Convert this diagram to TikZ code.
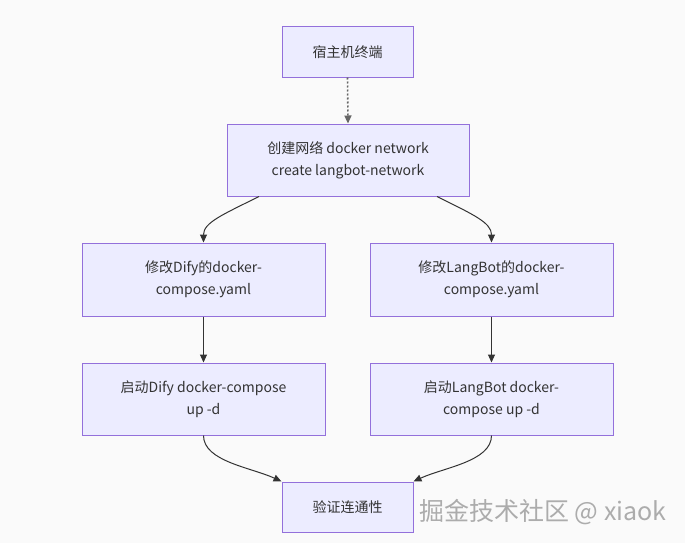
\documentclass[tikz,border=0pt]{standalone}
\usepackage{fontspec}
\setmainfont{Noto Sans CJK SC}
\usetikzlibrary{arrows.meta}
\definecolor{nodefill}{HTML}{ECECFF}
\definecolor{nodeline}{HTML}{9370DB}
\definecolor{txt}{HTML}{333333}
\definecolor{bg}{HTML}{FAFAFA}
\tikzset{
  box/.style={draw=nodeline, fill=nodefill, line width=1pt, inner sep=0pt, align=center,
    text=txt, font=\fontsize{14pt}{22pt}\selectfont},
  edge/.style={draw=txt, line width=1pt, -{Triangle[length=8pt,width=7pt]}},
  dotedge/.style={draw=gray!80!black, line width=1.6pt, dash pattern=on 2pt off 2pt, -{Triangle[length=8pt,width=7pt]}},
}
\begin{document}
\begin{tikzpicture}[x=1pt,y=-1pt]
\path[fill=bg] (0,0) rectangle (685,543);
\useasboundingbox (0,0) rectangle (685,543);
\node[box, minimum width=131pt, minimum height=50pt] (n1) at (347.5,52) {宿主机终端};
\node[box, minimum width=242pt, minimum height=72pt] (n2) at (348,160) {创建网络 docker network\\create langbot-network};
\node[box, minimum width=243pt, minimum height=73pt] (n3) at (203.5,279.5) {修改Dify的docker-\\compose.yaml};
\node[box, minimum width=243pt, minimum height=73pt] (n4) at (491.5,279.5) {修改LangBot的docker-\\compose.yaml};
\node[box, minimum width=243pt, minimum height=72pt] (n5) at (203.5,399) {启动Dify docker-compose\\up -d};
\node[box, minimum width=243pt, minimum height=72pt] (n6) at (491.5,399) {启动LangBot docker-\\compose up -d};
\node[box, minimum width=131pt, minimum height=50pt] (n7) at (347.5,507) {验证连通性};
\draw[dotedge] (n1.south) -- (n2.north);
\draw[edge] ([xshift=-89pt]n2.south) .. controls ([xshift=-125pt,yshift=-18pt]n2.south) and ([yshift=20pt]n3.north) .. (n3.north);
\draw[edge] ([xshift=89pt]n2.south) .. controls ([xshift=125pt,yshift=-18pt]n2.south) and ([yshift=20pt]n4.north) .. (n4.north);
\draw[edge] (n3.south) -- (n5.north);
\draw[edge] (n4.south) -- (n6.north);
\draw[edge] (n5.south) .. controls ([yshift=-26pt]n5.south) and ([xshift=-30pt,yshift=14pt]n7.north west) .. (n7.north west);
\draw[edge] (n6.south) .. controls ([yshift=-26pt]n6.south) and ([xshift=30pt,yshift=14pt]n7.north east) .. (n7.north east);
% watermark
\node[text=gray!65, font=\fontsize{25pt}{28pt}\selectfont, anchor=west, inner sep=0pt] (wm) at (419,512) {掘金技术社区 @ xiaok};
\end{tikzpicture}
\end{document}
